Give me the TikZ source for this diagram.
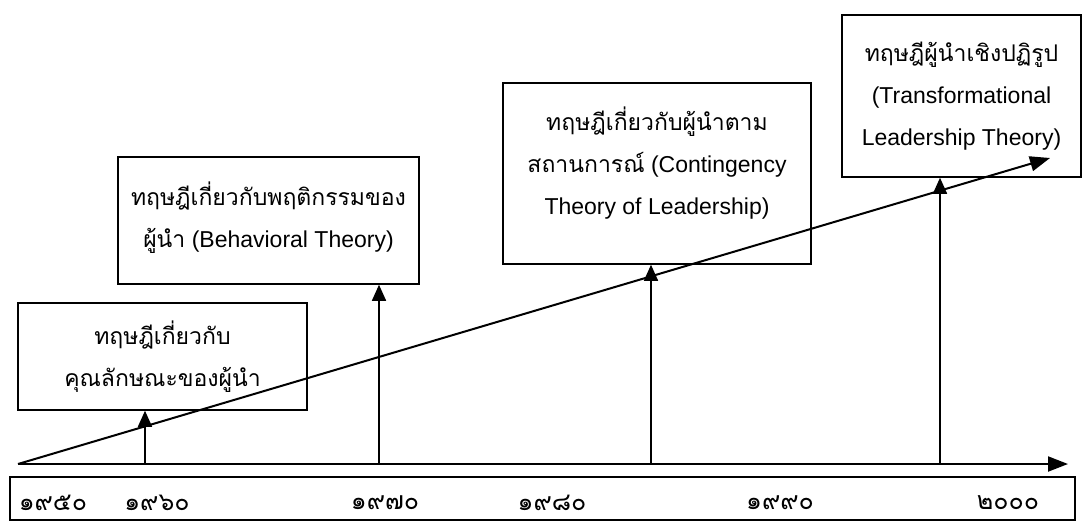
\documentclass[tikz,border=0pt]{standalone}
\usepackage{fontspec}
\setmainfont{Liberation Sans}
\newfontfamily\thaifont[Script=Thai]{Loma}
\newcommand{\thai}[1]{{\thaifont #1}}
\usetikzlibrary{arrows.meta,positioning}

\begin{document}
\begin{tikzpicture}[x=1pt, y=-1pt,
  theory/.style={draw, line width=1.5pt, align=center, inner sep=0pt,
                 font=\fontsize{23}{42}\selectfont},
  yearbar/.style={draw, line width=2.6pt, minimum width=1065pt,
                  minimum height=43pt},
  year/.style={font=\thaifont\fontsize{25}{28}\selectfont},
  riser/.style={line width=1.5pt, -{Triangle[length=16pt,width=14pt]}},
  trend/.style={line width=2pt, -{Triangle[length=20pt,width=15pt]}}
]
  \useasboundingbox (0,0) rectangle (1083,523);

  % theory boxes
  \node[theory, minimum width=289pt, minimum height=107pt] (b1) at (162.5,356.5)
    {\thai{ทฤษฎีเกี่ยวกับ}\\ \thai{คุณลักษณะของผู้นำ}};
  \node[theory, minimum width=301pt, minimum height=127pt] (b2) at (268.5,220.5)
    {\thai{ทฤษฎีเกี่ยวกับพฤติกรรมของ}\\ \thai{ผู้นำ} (Behavioral Theory)\\[-30pt]\mbox{}};
  \node[theory, minimum width=308pt, minimum height=181pt] (b3) at (657,173.5)
    {\thai{ทฤษฎีเกี่ยวกับผู้นำตาม}\\ \thai{สถานการณ์} (Contingency\\
     Theory of Leadership)\\[-16pt]\mbox{}};
  \node[theory, minimum width=239pt, minimum height=162pt] (b4) at (961.5,96)
    {\thai{ทฤษฎีผู้นำเชิงปฏิรูป}\\ (Transformational\\ Leadership Theory)};

  % year bar
  \node[yearbar] (bar) at (542.5,498.5) {};
  \foreach \yr/\xp in {๑๙๕๐/53, ๑๙๖๐/157, ๑๙๗๐/385, ๑๙๘๐/552, ๑๙๙๐/780, ๒๐๐๐/1008}
    \node[year] (yr\xp) at (\xp,503) {\yr};

  % axis and trend
  \coordinate (origin) at (18,464);
  \coordinate (axisend) at (1068,464);
  \coordinate (trendend) at (1050,158);
  \draw[trend] (origin) -- (axisend);
  \draw[trend] (origin) -- (trendend);

  % risers
  \foreach \xp/\b in {145/b1, 379/b2, 651/b3, 940/b4} {
    \coordinate (r\b) at (\xp,464);
    \draw[riser] (r\b) -- (r\b |- \b.south);
  }
\end{tikzpicture}
\end{document}
